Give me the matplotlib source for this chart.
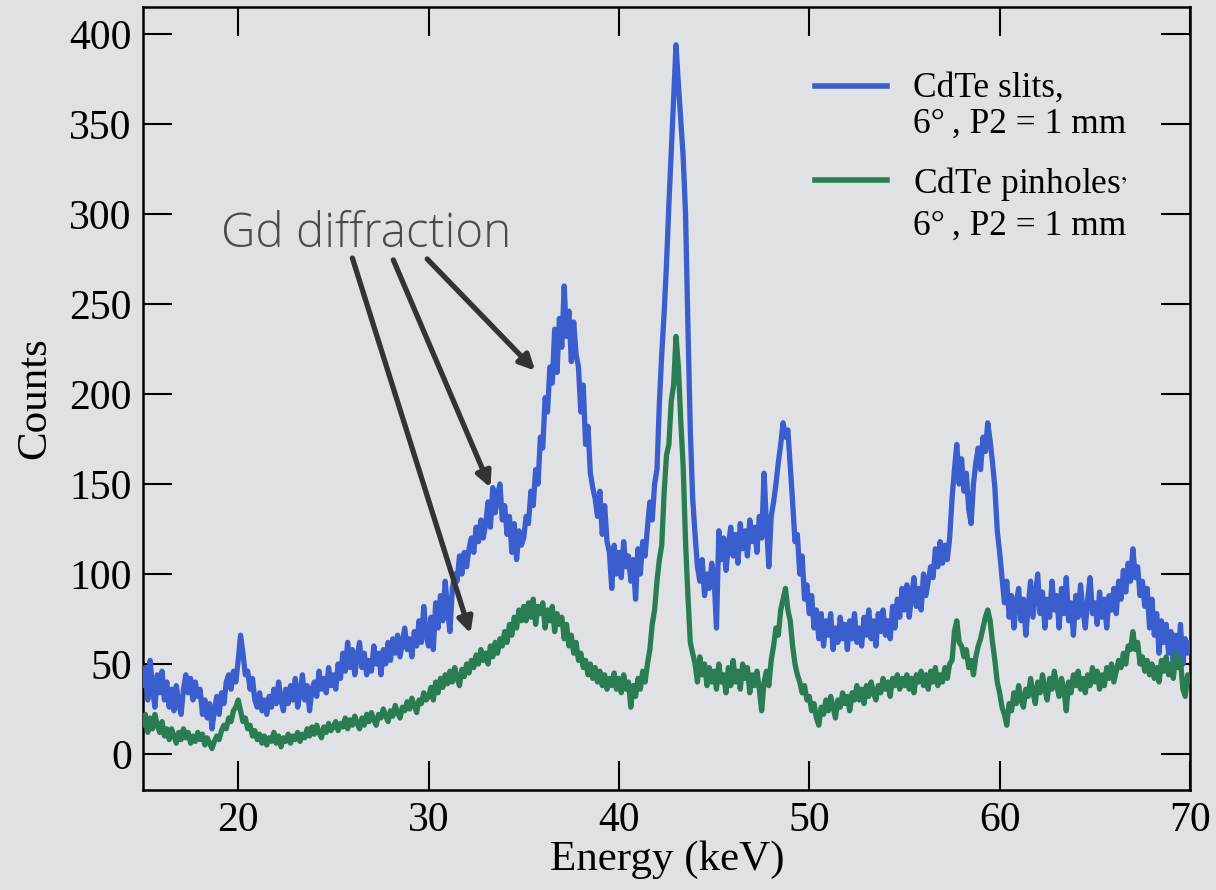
import numpy as np
import matplotlib
matplotlib.use("Agg")
import matplotlib.pyplot as plt
from matplotlib.lines import Line2D

# Energy grid (keV): 0.125 keV bins from 15 to 70
energy_start = 15.0
energy_step = 0.125

slits_counts = [
    # 15-20
    38, 48, 30, 52, 36, 26, 44, 34, 46, 30, 40, 26, 36, 24, 38, 28, 22, 36, 44, 34,
    42, 30, 40, 32, 36, 22, 30, 20, 28, 14, 24, 32, 22, 34, 28, 40, 44, 36, 46, 40,
    # 20-25
    52, 66, 56, 44, 46, 36, 42, 30, 26, 34, 24, 30, 22, 32, 26, 36, 28, 40, 30, 24,
    36, 28, 38, 30, 42, 26, 34, 44, 30, 38, 24, 36, 40, 32, 46, 36, 42, 34, 48, 38,
    # 25-30
    44, 36, 50, 42, 56, 46, 62, 48, 58, 44, 54, 62, 48, 56, 44, 52, 46, 60, 50, 56,
    44, 58, 50, 62, 52, 64, 56, 66, 54, 62, 70, 58, 64, 54, 68, 60, 74, 62, 82, 66,
    # 30-35
    60, 76, 58, 84, 70, 88, 74, 96, 80, 68, 92, 100, 96, 110, 100, 112, 104, 114, 120, 112,
    126, 118, 130, 120, 128, 140, 126, 148, 134, 144, 150, 130, 138, 122, 132, 112, 128, 108, 124, 116,
    # 35-40
    120, 132, 128, 146, 138, 158, 150, 176, 170, 198, 190, 215, 206, 236, 212, 242, 226, 260, 232, 246,
    218, 240, 222, 215, 190, 205, 172, 182, 156, 148, 142, 132, 146, 122, 138, 118, 112, 92, 116, 100,
    # 40-45
    112, 98, 118, 104, 110, 96, 108, 86, 114, 100, 118, 110, 126, 140, 130, 150, 158, 195, 222, 245,
    272, 305, 335, 365, 394, 372, 352, 332, 300, 238, 180, 142, 122, 104, 96, 108, 88, 100, 92, 106,
    # 45-50
    98, 70, 124, 108, 120, 102, 116, 126, 110, 122, 106, 128, 114, 124, 110, 130, 118, 126, 112, 132,
    120, 156, 128, 104, 132, 140, 150, 162, 172, 184, 176, 180, 160, 140, 118, 122, 100, 110, 86, 94,
    # 50-55
    78, 88, 70, 80, 64, 78, 60, 74, 66, 78, 58, 70, 62, 76, 64, 72, 58, 74, 64, 78,
    62, 70, 60, 76, 66, 80, 64, 74, 60, 78, 68, 80, 66, 74, 64, 82, 70, 86, 76, 92,
    # 55-60
    80, 94, 76, 88, 98, 82, 92, 80, 100, 88, 96, 104, 98, 114, 104, 118, 106, 116, 108, 120,
    142, 158, 172, 150, 164, 146, 156, 136, 128, 150, 162, 170, 158, 176, 168, 184, 174, 162, 148, 124,
    # 60-65
    112, 98, 84, 96, 76, 88, 70, 84, 92, 74, 86, 66, 82, 96, 76, 88, 100, 78, 90, 70,
    86, 76, 96, 80, 88, 70, 92, 78, 98, 74, 84, 66, 88, 76, 94, 80, 70, 86, 98, 78,
    # 65-70
    84, 72, 90, 76, 86, 70, 88, 80, 92, 78, 96, 86, 102, 90, 106, 96, 114, 98, 104, 88,
    96, 82, 92, 70, 86, 66, 78, 56, 74, 62, 72, 56, 68, 48, 66, 54, 72, 50, 64, 56,
    62,
]

pinholes_counts = [
    # 15-20
    16, 22, 12, 20, 14, 22, 16, 12, 18, 10, 14, 8, 14, 10, 6, 12, 8, 14, 9, 12,
    6, 10, 7, 12, 8, 11, 5, 9, 6, 3, 7, 10, 8, 13, 16, 14, 20, 18, 24, 26,
    # 20-25
    30, 24, 18, 20, 14, 16, 10, 13, 8, 11, 6, 10, 5, 9, 7, 12, 6, 10, 4, 9,
    7, 11, 6, 10, 8, 12, 7, 11, 9, 14, 10, 15, 11, 16, 12, 9, 15, 12, 17, 13,
    # 25-30
    15, 18, 13, 17, 15, 20, 14, 19, 16, 21, 17, 14, 20, 16, 22, 18, 23, 19, 16, 22,
    20, 25, 21, 18, 24, 21, 27, 23, 20, 26, 24, 29, 25, 31, 27, 23, 30, 28, 34, 30,
    # 30-35
    32, 37, 30, 40, 34, 42, 37, 44, 39, 46, 40, 48, 42, 38, 47, 43, 50, 45, 52, 48,
    55, 50, 58, 52, 56, 50, 60, 54, 62, 56, 64, 60, 68, 62, 72, 66, 76, 70, 80, 74,
    # 35-40
    82, 74, 84, 76, 86, 72, 82, 78, 84, 70, 80, 74, 82, 68, 78, 72, 76, 64, 72, 60,
    66, 56, 62, 52, 56, 48, 52, 44, 50, 42, 48, 40, 46, 38, 44, 36, 42, 38, 45, 36,
    # 40-45
    42, 34, 44, 36, 40, 26, 38, 32, 42, 36, 46, 40, 50, 58, 72, 80, 96, 108, 116, 145,
    166, 172, 196, 205, 232, 215, 185, 160, 118, 88, 62, 56, 50, 40, 54, 44, 50, 38, 48, 40,
    # 45-50
    46, 36, 50, 40, 44, 34, 48, 38, 52, 40, 46, 36, 50, 42, 48, 34, 44, 38, 46, 36,
    24, 40, 46, 38, 52, 60, 70, 66, 80, 86, 92, 80, 74, 60, 50, 44, 40, 34, 38, 30,
    # 50-55
    32, 24, 28, 20, 16, 26, 22, 30, 24, 32, 26, 20, 30, 26, 34, 28, 32, 24, 34, 30,
    38, 30, 36, 28, 38, 32, 40, 34, 30, 38, 34, 42, 36, 40, 32, 42, 38, 44, 36, 42,
    # 55-60
    38, 44, 36, 42, 34, 44, 40, 46, 38, 44, 36, 46, 40, 48, 38, 44, 40, 48, 42, 50,
    52, 68, 74, 62, 60, 54, 58, 48, 52, 44, 54, 60, 64, 70, 76, 80, 74, 62, 52, 40,
    # 60-65
    34, 26, 22, 16, 28, 24, 34, 28, 38, 30, 26, 36, 32, 42, 34, 28, 40, 34, 44, 36,
    30, 42, 36, 46, 38, 32, 42, 36, 24, 40, 34, 44, 38, 46, 36, 42, 34, 44, 38, 48,
    # 65-70
    40, 46, 36, 44, 38, 48, 42, 50, 40, 46, 52, 48, 56, 50, 60, 58, 68, 58, 62, 50,
    54, 46, 52, 44, 50, 42, 48, 40, 52, 46, 54, 44, 50, 42, 56, 48, 52, 36, 32, 44,
    40,
]

series_labels = [("CdTe slits,", "6°\u2009, P2 = 1 mm"),
                 ("CdTe pinholes$^{,}$", "6°\u2009, P2 = 1 mm")]
x_ticks = [20, 30, 40, 50, 60, 70]
y_ticks = [0, 50, 100, 150, 200, 250, 300, 350, 400]
annotation_text = "Gd diffraction"
arrow_tails = [(26.0, 275.5), (28.15, 274.5), (29.93, 275.0)]
arrow_heads = [(32.2, 67.0), (33.25, 148.0), (35.6, 213.0)]

energy = energy_start + energy_step * np.arange(len(slits_counts))

BG = "#e0e1e5"
BLUE = "#3a5ecd"
GREEN = "#2a7d52"
W, H = 1216, 890

plt.rcParams["font.family"] = ["Liberation Serif", "DejaVu Serif"]
plt.rcParams["mathtext.fontset"] = "stix"

fig = plt.figure(figsize=(W / 100, H / 100), dpi=100, facecolor=BG)
ax = fig.add_axes([143 / W, 1 - 790 / H, (1190 - 143) / W, (790 - 7) / H])
ax.set_facecolor(BG)

ax.plot(energy, slits_counts, color=BLUE, lw=3.8, solid_joinstyle="round",
        solid_capstyle="round", zorder=3)
ax.plot(energy, pinholes_counts, color=GREEN, lw=3.8, solid_joinstyle="round",
        solid_capstyle="round", zorder=3)

ax.set_xlim(15, 70)
ax.set_ylim(-20, 415)
ax.set_xticks(x_ticks)
ax.set_yticks(y_ticks)
ax.tick_params(axis="both", which="major", direction="in", length=21, width=1.5,
               labelsize=30, top=True, right=True, pad=8, colors="black")
ax.minorticks_off()
for sp in ax.spines.values():
    sp.set_linewidth(1.8)
    sp.set_color("black")

fig.text(35 / W, 1 - 398 / H, "Counts", rotation=90, ha="center", va="center", fontsize=31)
fig.text(667 / W, 1 - 860 / H, "Energy (keV)", ha="center", va="center", fontsize=31)

# Legend (drawn manually to match layout)
legend_colors = [BLUE, GREEN]
handle_y = [86, 180]
text_baselines = [(97, 133), (193, 235)]
for col, hy, (b1, b2), (l1, l2) in zip(legend_colors, handle_y, text_baselines, series_labels):
    fig.add_artist(Line2D([815 / W, 887 / W], [1 - hy / H, 1 - hy / H], color=col, lw=4,
                          transform=fig.transFigure))
    fig.text(913 / W, 1 - b1 / H, l1, fontsize=25.5, ha="left", va="baseline")
    fig.text(913 / W, 1 - b2 / H, l2, fontsize=25.5, ha="left", va="baseline")

ax.text(19.1, 281.8, annotation_text, family=["Open Sans", "DejaVu Sans"], fontweight="light",
        fontsize=34.2, color="#4a4a4e", ha="left", va="baseline", zorder=5)
for tail, head in zip(arrow_tails, arrow_heads):
    ax.annotate("", xy=head, xytext=tail,
                arrowprops=dict(arrowstyle="-|>,head_length=0.9,head_width=0.45",
                                color="#333336", lw=3.8, shrinkA=0, shrinkB=0),
                zorder=6)

fig.savefig("out.png", dpi=100, facecolor=BG)
